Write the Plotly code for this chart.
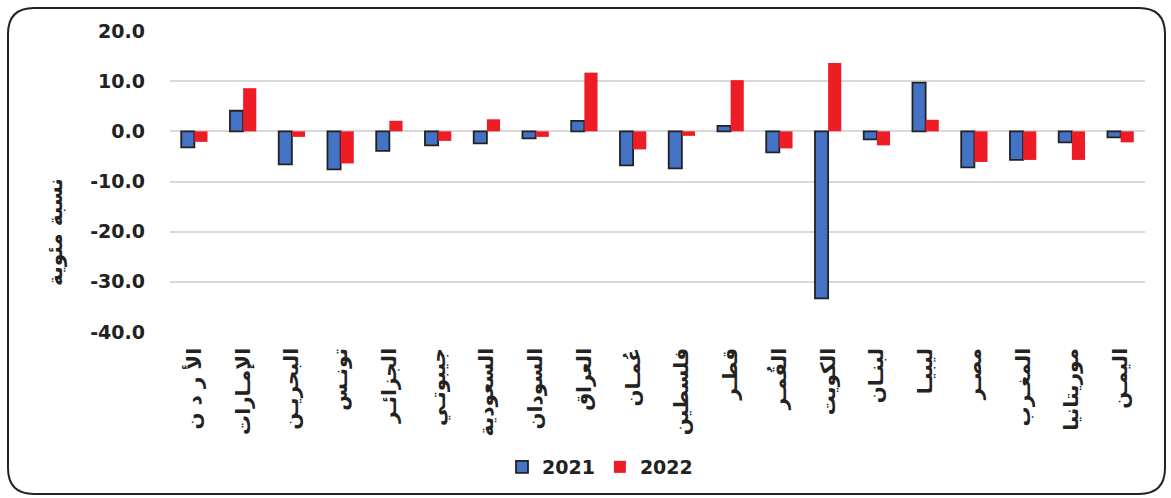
import plotly.graph_objects as go

categories = ["الأ ر د ن", "الإمـارات", "البحريـن", "تونـس", "الجزائـر", "جيبوتـي",
              "السعودية", "السودان", "العراق", "عُمـان", "فلسطين", "قطـر", "القُمـر",
              "الكويت", "لبنـان", "ليبيـا", "مصـر", "المغـرب", "موريتانيا", "اليمـن"]
values_2021 = [-3.2, 4.1, -6.6, -7.6, -3.9, -2.8, -2.4, -1.4, 2.1, -6.8, -7.4, 1.1,
               -4.2, -33.3, -1.6, 9.7, -7.2, -5.7, -2.2, -1.2]
values_2022 = [-2.1, 8.6, -1.1, -6.4, 2.1, -1.9, 2.4, -1.1, 11.7, -3.6, -0.9, 10.2,
               -3.4, 13.6, -2.8, 2.3, -6.1, -5.7, -5.7, -2.2]
y_ticks = [20, 10, 0, -10, -20, -30, -40]
series_names = ["2021", "2022"]
y_title = "نسبة مئوية"

W, H = 1171, 498
L, R, T, B = 170, 26, 31, 166
pw, ph = W - L - R, H - T - B

FONT = "DejaVu Sans, sans-serif"
INK = "#222222"

fig = go.Figure()
fig.add_trace(go.Bar(x=categories, y=values_2021, name=f"<b>{series_names[0]}</b>",
                     marker=dict(color="#4472C4", line=dict(color=INK, width=1.8))))
fig.add_trace(go.Bar(x=categories, y=values_2022, name=f"<b>{series_names[1]}</b>",
                     marker=dict(color="#EE1C25", line=dict(width=0))))

def px2paper(x, y):
    return (x - L) / pw, (H - B - y) / ph

def P(x, y):
    a, b = px2paper(x, y)
    return f"{a:.5f},{b:.5f}"

# rounded outer border
x0, y0, x1, y1, r = 8, 8, 1165, 494, 26
path = (f"M {P(x0 + r, y0)} L {P(x1 - r, y0)} Q {P(x1, y0)} {P(x1, y0 + r)} "
        f"L {P(x1, y1 - r)} Q {P(x1, y1)} {P(x1 - r, y1)} "
        f"L {P(x0 + r, y1)} Q {P(x0, y1)} {P(x0, y1 - r)} "
        f"L {P(x0, y0 + r)} Q {P(x0, y0)} {P(x0 + r, y0)} Z")
fig.add_shape(type="path", path=path, xref="paper", yref="paper",
              line=dict(color=INK, width=2), layer="above")

ax, ay = px2paper(55, 232)
fig.add_annotation(text=f"<b>{y_title}</b>", x=ax, y=ay, xref="paper", yref="paper",
                   xanchor="center", yanchor="middle",
                   textangle=-90, showarrow=False, font=dict(size=20, color=INK, family=FONT))

lx, ly = px2paper(600, 467)
fig.update_layout(
    width=W, height=H,
    margin=dict(l=L, r=R, t=T, b=B),
    paper_bgcolor="white", plot_bgcolor="white",
    barmode="group", bargap=0.46, bargroupgap=0,
    showlegend=True,
    legend=dict(orientation="h", x=lx, y=ly, xanchor="center", yanchor="middle",
                font=dict(size=19, color=INK, family=FONT), itemwidth=30,
                traceorder="normal"),
    font=dict(family=FONT, color=INK),
)
fig.update_yaxes(range=[-40, 20], tickvals=y_ticks,
                 ticktext=[f"<b>{v:.1f}</b>" for v in y_ticks],
                 showgrid=True, gridcolor="#d9d9d9", gridwidth=1.5,
                 zeroline=True, zerolinecolor="#d9d9d9", zerolinewidth=1.5,
                 showline=False, ticks="", ticklabelstandoff=24,
                 tickfont=dict(size=19, color=INK, family=FONT))
fig.update_xaxes(tickangle=-90, showline=False, ticks="", showgrid=False,
                 tickvals=categories, ticktext=[f"<b>{c}</b>" for c in categories],
                 ticklabelstandoff=11,
                 tickfont=dict(size=20, color=INK, family=FONT))

fig.write_html("out.html", config={"displayModeBar": False},
               post_script="document.body.style.margin='0';document.body.style.overflow='hidden';")
